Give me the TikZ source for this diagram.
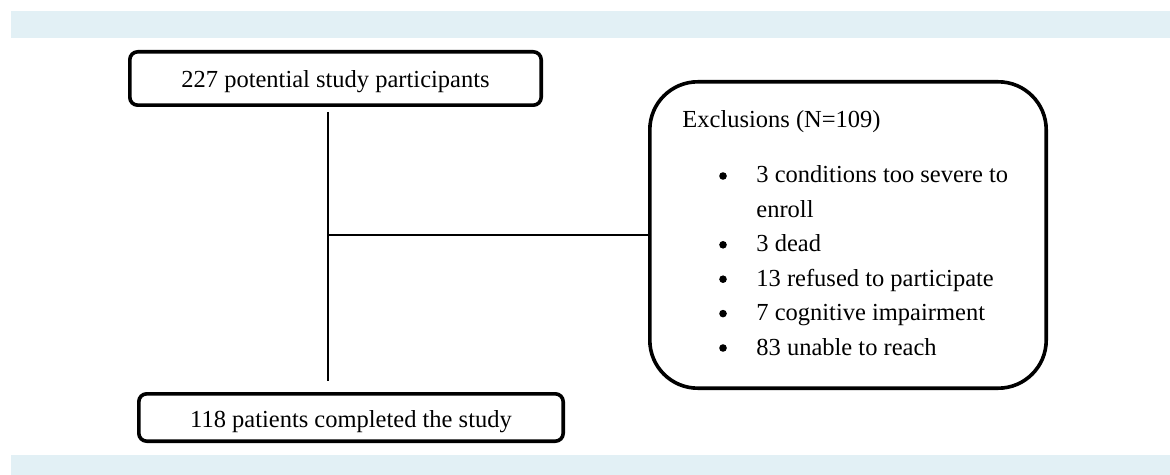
\documentclass[tikz,border=0pt]{standalone}
\usepackage{fontspec}
\setmainfont{Liberation Serif}
\definecolor{bandblue}{RGB}{226,240,245}
\begin{document}
\begin{tikzpicture}[x=0.5pt,y=-0.5pt,
  box/.style={draw=black, line width=1.8pt, inner sep=0pt, align=center},
  conn/.style={draw=black, line width=0.55pt},
  txt/.style={inner sep=0pt, anchor=base west},
  dot/.style={circle, fill=black, inner sep=0pt, minimum size=3.8pt},
  band/.style={fill=bandblue},
  font=\fontsize{12.25pt}{14pt}\selectfont]
\useasboundingbox (0,0) rectangle (1170,475);
\fill[band] (11,11) rectangle (1170,38);
\fill[band] (11,455) rectangle (1170,475);
\node[box, rounded corners=4pt, minimum width=205.7pt, minimum height=26.7pt,
      text height=11.2pt, text depth=2.66pt] (top) at (335.5,78.5) {227 potential study participants};
\node[box, rounded corners=4pt, minimum width=212.2pt, minimum height=23.7pt,
      text height=12.16pt, text depth=2.66pt] (bottom) at (351,417.5) {118 patients completed the study};
\node[box, rounded corners=24pt, minimum width=198.2pt, minimum height=153.2pt] (excl) at (848,235) {};
\node[txt] (exh) at (682,128) {Exclusions (N=109)};
\node[dot] (b1) at (723,176) {};
\node[txt] (i1) at (756,183) {3 conditions too severe to};
\node[txt] (i1b) at (756,217.4) {enroll};
\node[dot] (b2) at (723,244.8) {};
\node[txt] (i2) at (756,251.8) {3 dead};
\node[dot] (b3) at (723,279.2) {};
\node[txt] (i3) at (756,286.2) {13 refused to participate};
\node[dot] (b4) at (723,313.6) {};
\node[txt] (i4) at (756,320.6) {7 cognitive impairment};
\node[dot] (b5) at (723,348) {};
\node[txt] (i5) at (756,355) {83 unable to reach};
\coordinate (j) at (328,235);
\draw[conn, shorten <=2.4pt, shorten >=5.4pt] (top.south -| j) -- (bottom.north -| j);
\draw[conn] (j) -- (excl.west);
\end{tikzpicture}
\end{document}
